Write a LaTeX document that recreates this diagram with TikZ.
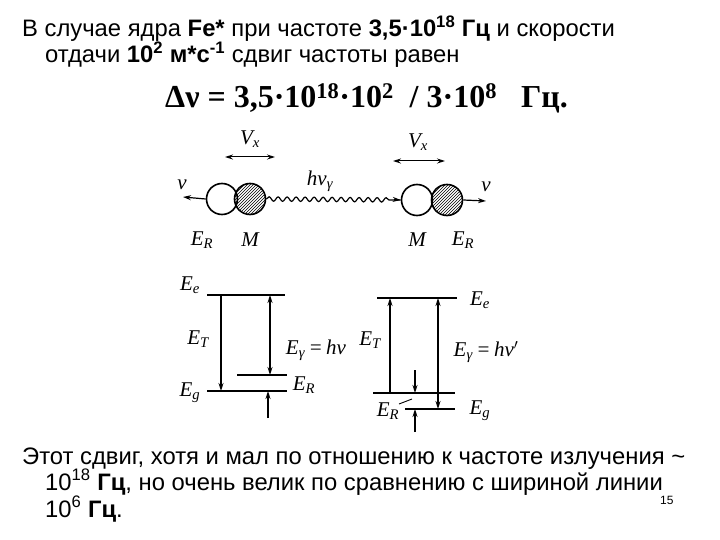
\documentclass[tikz,border=0pt]{standalone}
\usepackage{fontspec}
\setmainfont{Liberation Sans}
\newfontfamily\tnr{Liberation Serif}
\usetikzlibrary{patterns,decorations.pathmorphing,arrows.meta}
\begin{document}
\begin{tikzpicture}[x=1pt,y=-1pt,
  txt/.style={anchor=base west,inner sep=0,font=\fontsize{23.8}{26}\selectfont},
  lab/.style={inner sep=0,font=\fontsize{21}{24}\selectfont\itshape\tnr},
  lvl/.style={line width=1.8pt},
  arr/.style={line width=1.2pt,-{Stealth[length=8pt,width=5pt]}},
  darr/.style={line width=1.2pt,{Stealth[length=8pt,width=5pt]}-{Stealth[length=8pt,width=5pt]}},
  ball/.style={circle,draw,line width=1.6pt,minimum size=31pt,inner sep=0}]
\useasboundingbox (0,0) rectangle (720,540);
\node[txt] (t1) at (22,37) {В случае ядра \textbf{Fe*} при частоте \textbf{3,5·10\textsuperscript{18} Гц} и скорости};
\node[txt] (t2) at (45,63) {отдачи \textbf{10\textsuperscript{2} м*с\textsuperscript{-1}} сдвиг частоты равен};
\node[anchor=base west,inner sep=0,font=\fontsize{32}{36}\selectfont\bfseries\tnr] (f) at (165,108) {Δν = 3,5·10\textsuperscript{18}·10\textsuperscript{2}\ \ / 3·10\textsuperscript{8}\ \ \ Гц.};
% nuclei
\node[ball] (c1) at (222,199) {};
\node[ball,pattern=north east lines] (h1) at (250,199) {};
\node[ball] (c2) at (417,200) {};
\node[ball,pattern=north east lines] (h2) at (447,200) {};
\coordinate (vl) at (183,197);
\coordinate (vr) at (486,201);
\draw[arr] (c1.west) -- (vl);
\draw[arr] (h2.east) -- (vr);
\node[lab] (vlab1) at (182,185) {v};
\node[lab] (vlab2) at (486,187) {v};
\draw[line width=1.2pt,decorate,decoration={snake,amplitude=2.2pt,segment length=9pt,post length=8pt}] (h1.east) -- (c2.west);
\draw[arr] (394,199.5) -- (c2.west);
\node[lab] (hn) at (320,181) {hν\textsubscript{γ}};
\coordinate (va1) at (225,157); \coordinate (vb1) at (275,157);
\coordinate (va2) at (393,161); \coordinate (vb2) at (445,161);
\draw[darr,line width=1pt] (va1) -- (vb1);
\draw[darr,line width=1pt] (va2) -- (vb2);
\node[lab] (vx1) at (250,139) {V\textsubscript{x}};
\node[lab] (vx2) at (418,142) {V\textsubscript{x}};
\node[lab] (er1) at (202,240) {E\textsubscript{R}};
\node[lab] (m1) at (250,240) {M};
\node[lab] (m2) at (417,240) {M};
\node[lab] (er2) at (463,240) {E\textsubscript{R}};
% left levels
\coordinate (le1) at (207,295); \coordinate (le2) at (285,295);
\coordinate (lg1) at (207,391); \coordinate (lg2) at (287,391);
\coordinate (lr1) at (237,375); \coordinate (lr2) at (287,375);
\draw[lvl] (le1) -- (le2); \draw[lvl] (lg1) -- (lg2); \draw[lvl] (lr1) -- (lr2);
\draw[arr] (221,295) -- (221,391);
\draw[darr] (270,295) -- (270,375);
\draw[arr] (268,418) -- (268,391);
\node[lab] (lee) at (190,285) {E\textsubscript{e}};
\node[lab] (leg) at (190,393) {E\textsubscript{g}};
\node[lab] (let) at (198,339) {E\textsubscript{T}};
\node[lab] (ler) at (304,385) {E\textsubscript{R}};
\node[lab] (leg2) at (316,350) {E\textsubscript{γ}\,=\,hν};
% right levels
\coordinate (re1) at (377,298); \coordinate (re2) at (457,298);
\coordinate (rm1) at (373,393); \coordinate (rm2) at (455,393);
\coordinate (rg1) at (405,409); \coordinate (rg2) at (455,409);
\draw[lvl] (re1) -- (re2); \draw[lvl] (rm1) -- (rm2); \draw[lvl] (rg1) -- (rg2);
\draw[arr] (390,393) -- (390,298);
\draw[darr] (438,298) -- (438,409);
\draw[arr] (415,370) -- (415,393);
\draw[arr] (415,432) -- (415,409);
\draw[line width=0.9pt] (399,404) -- (412,399);
\node[lab] (ree) at (480,300) {E\textsubscript{e}};
\node[lab] (reg) at (480,411) {E\textsubscript{g}};
\node[lab] (ret) at (370,340) {E\textsubscript{T}};
\node[lab] (rer) at (388,411) {E\textsubscript{R}};
\node[lab] (reg2) at (486,352) {E\textsubscript{γ}\,=\,hν$'$};
% bottom text
\node[txt] (b1) at (22,464) {Этот сдвиг, хотя и мал по отношению к частоте излучения \textasciitilde};
\node[txt] (b2) at (45,490) {10\textsuperscript{18} \textbf{Гц}, но очень велик по сравнению с шириной линии};
\node[txt] (b3) at (45,517) {10\textsuperscript{6} \textbf{Гц}.};
\node[anchor=base west,inner sep=0,font=\fontsize{12}{14}\selectfont] (pg) at (660,504) {15};
\end{tikzpicture}
\end{document}
